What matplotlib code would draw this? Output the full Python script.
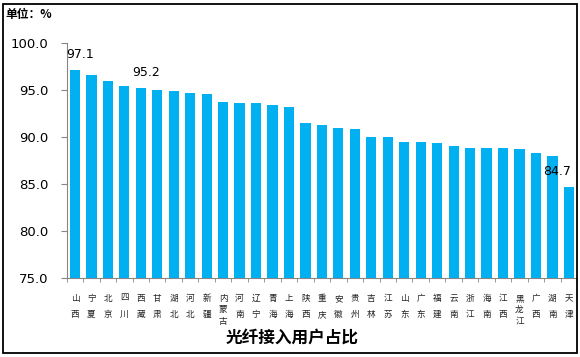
import matplotlib
matplotlib.use("Agg")
import matplotlib.pyplot as plt
from matplotlib.patches import Rectangle

plt.rcParams['font.family'] = ['DejaVu Sans', 'Noto Sans CJK SC']

provinces = ["山西", "宁夏", "北京", "四川", "西藏", "甘肃", "湖北", "河北", "新疆", "内蒙古",
             "河南", "辽宁", "青海", "上海", "陕西", "重庆", "安徽", "贵州", "吉林", "江苏",
             "山东", "广东", "福建", "云南", "浙江", "海南", "江西", "黑龙江", "广西", "湖南", "天津"]
ratios = [97.1, 96.6, 96.0, 95.4, 95.2, 95.0, 94.9, 94.7, 94.6, 93.7,
          93.6, 93.6, 93.4, 93.2, 91.5, 91.3, 91.0, 90.8, 90.0, 90.0,
          89.5, 89.5, 89.4, 89.0, 88.8, 88.8, 88.8, 88.7, 88.3, 88.0, 84.7]
yticks = [75.0, 80.0, 85.0, 90.0, 95.0, 100.0]
labelled = {"山西": 97.1, "西藏": 95.2, "天津": 84.7}

bar_color = "#00B0F0"
axis_color = "#868686"
cjk = ['Noto Sans CJK SC', 'DejaVu Sans']

fig = plt.figure(figsize=(5.8, 3.57), dpi=100)
ax = fig.add_axes([0.115, 0.2205, 0.88, 0.6595])

x = list(range(len(provinces)))
ax.bar(x, ratios, width=0.62, color=bar_color)
ax.set_xlim(-0.5, len(provinces) - 0.5)
ax.set_ylim(75, 100)

ax.set_yticks(yticks)
ax.set_yticklabels([f"{v:.1f}" for v in yticks], fontsize=9.5)
ax.tick_params(axis='y', length=4, color=axis_color, pad=9)

# category labels written vertically
ax.set_xticks(x)
ax.set_xticklabels([])
ax.tick_params(axis='x', which='major', length=0)
ax.set_xticks([i - 0.5 for i in range(len(provinces) + 1)], minor=True)
ax.tick_params(axis='x', which='minor', length=3, color=axis_color)
for i, name in enumerate(provinces):
    ls = 2.0 if len(name) == 2 else 1.35
    ax.text(i, 73.35, "\n".join(name), ha='center', va='top', fontsize=6.2,
            linespacing=ls, family=cjk, color="#222222")

for side in ['top', 'right']:
    ax.spines[side].set_visible(False)
for side in ['left', 'bottom']:
    ax.spines[side].set_color(axis_color)

# value labels
for i, name in enumerate(provinces):
    if name in labelled:
        dx = -0.7 if name == "天津" else 0.3
        ax.text(i + dx, ratios[i] + 1.0, f"{labelled[name]:.1f}", ha='center',
                va='bottom', fontsize=9)

fig.text(0.010, 0.960, "单位：%", fontsize=8.5, fontweight='bold', family=cjk,
         ha='left', va='center')
fig.text(0.503, 0.053, "光纤接入用户占比", fontsize=12, fontweight='bold', family=cjk,
         ha='center', va='center')

fig.patches.append(Rectangle((3 / 580, 4 / 357), 574 / 580, 349 / 357,
                             transform=fig.transFigure, fill=False,
                             edgecolor='black', linewidth=1.3))

fig.savefig("out.png", dpi=100)
